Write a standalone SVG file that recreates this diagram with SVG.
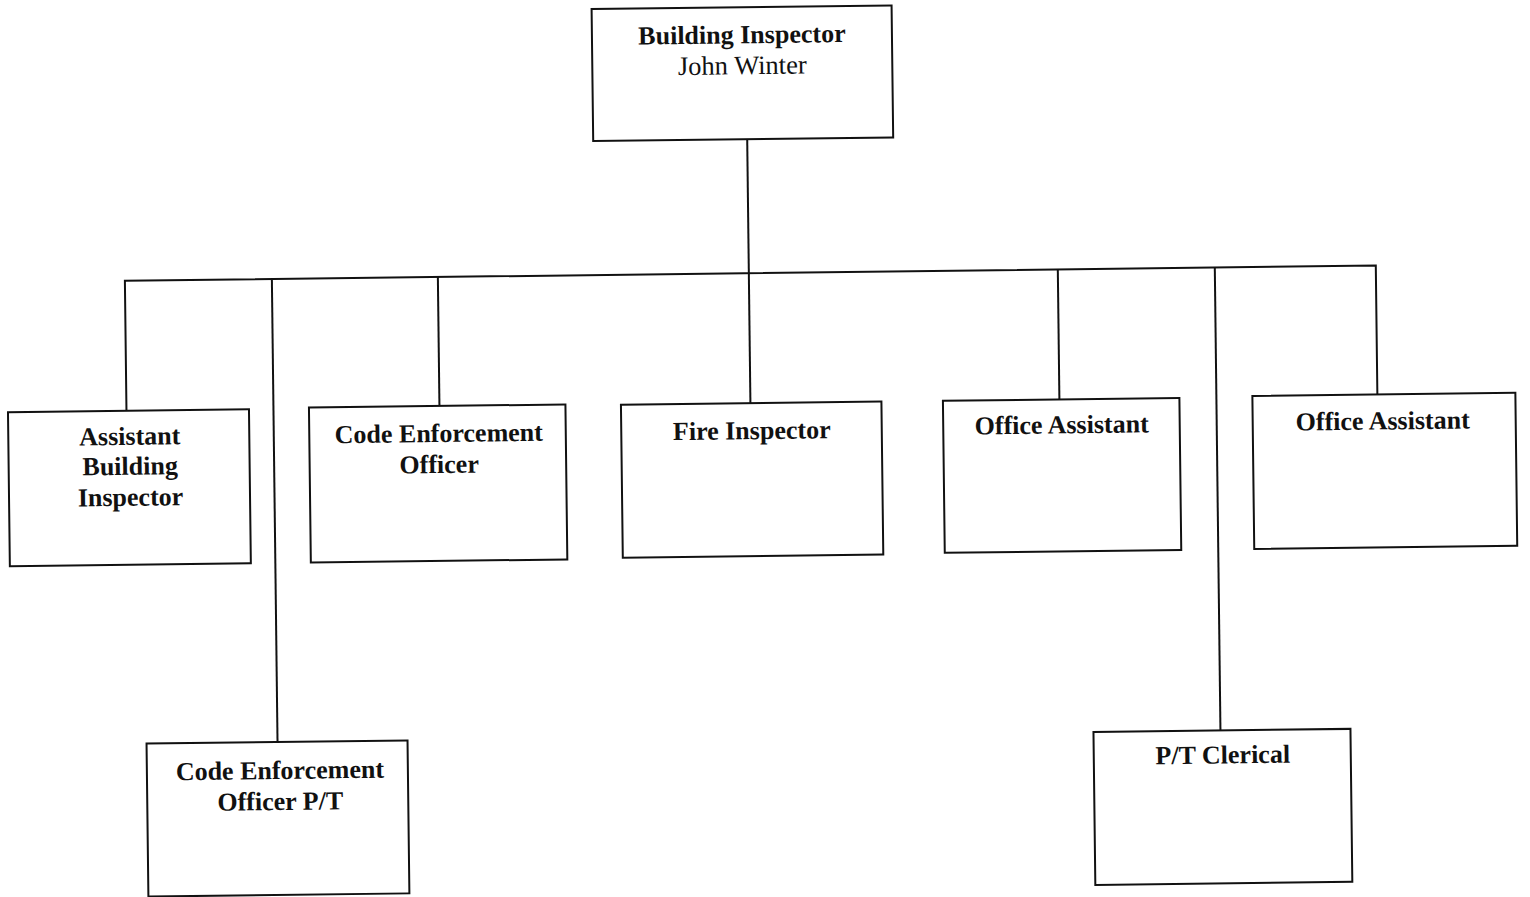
<svg xmlns="http://www.w3.org/2000/svg" width="1530" height="897" viewBox="0 0 1530 897">
  <style>
    .box { fill: #ffffff; stroke: #111111; stroke-width: 2; }
    .wire { fill: none; stroke: #111111; stroke-width: 2; }
    .title { font-family: "Liberation Serif", "Times New Roman", serif; font-weight: bold; font-size: 26px; fill: #111111; text-anchor: middle; }
    .name { font-family: "Liberation Serif", "Times New Roman", serif; font-size: 26.5px; fill: #111111; text-anchor: middle; }
  </style>
  <rect x="0" y="0" width="1530" height="897" fill="#ffffff"/>
  <!-- the sheet sits slightly askew on the page -->
  <g transform="rotate(-0.7 765 450)">
    <g id="connectors">
      <line class="wire" x1="751" y1="139" x2="751" y2="403"/>
      <polyline class="wire" points="127,403 127,273 1378,273 1378,402"/>
      <line class="wire" x1="274" y1="273" x2="274" y2="736"/>
      <line class="wire" x1="440" y1="273" x2="440" y2="402"/>
      <line class="wire" x1="1060" y1="273" x2="1060" y2="403"/>
      <line class="wire" x1="1217" y1="273" x2="1217" y2="736"/>
    </g>

    <g id="building-inspector">
      <rect class="box" x="597" y="7" width="300" height="132"/>
      <text class="title" x="747" y="43">Building Inspector</text>
      <text class="name" x="747" y="74">John Winter</text>
    </g>

    <g id="assistant-building-inspector">
      <rect class="box" x="8.5" y="403" width="241" height="154"/>
      <text class="title" x="130" y="437">Assistant</text>
      <text class="title" x="130" y="467">Building</text>
      <text class="title" x="130" y="498">Inspector</text>
    </g>

    <g id="code-enforcement-officer">
      <rect class="box" x="309.5" y="402" width="256.5" height="155"/>
      <text class="title" x="439" y="438">Code Enforcement</text>
      <text class="title" x="439" y="469">Officer</text>
    </g>

    <g id="fire-inspector">
      <rect class="box" x="621.5" y="403" width="260.5" height="153"/>
      <text class="title" x="752" y="439">Fire Inspector</text>
    </g>

    <g id="office-assistant-1">
      <rect class="box" x="943.5" y="403" width="236.5" height="152"/>
      <text class="title" x="1062" y="437">Office Assistant</text>
    </g>

    <g id="office-assistant-2">
      <rect class="box" x="1253" y="402" width="263" height="153"/>
      <text class="title" x="1383" y="437">Office Assistant</text>
    </g>

    <g id="code-enforcement-officer-pt">
      <rect class="box" x="143" y="736" width="261" height="153"/>
      <text class="title" x="276" y="773">Code Enforcement</text>
      <text class="title" x="276" y="804">Officer P/T</text>
    </g>

    <g id="pt-clerical">
      <rect class="box" x="1090" y="736" width="257" height="153"/>
      <text class="title" x="1219" y="769">P/T Clerical</text>
    </g>
  </g>
</svg>
